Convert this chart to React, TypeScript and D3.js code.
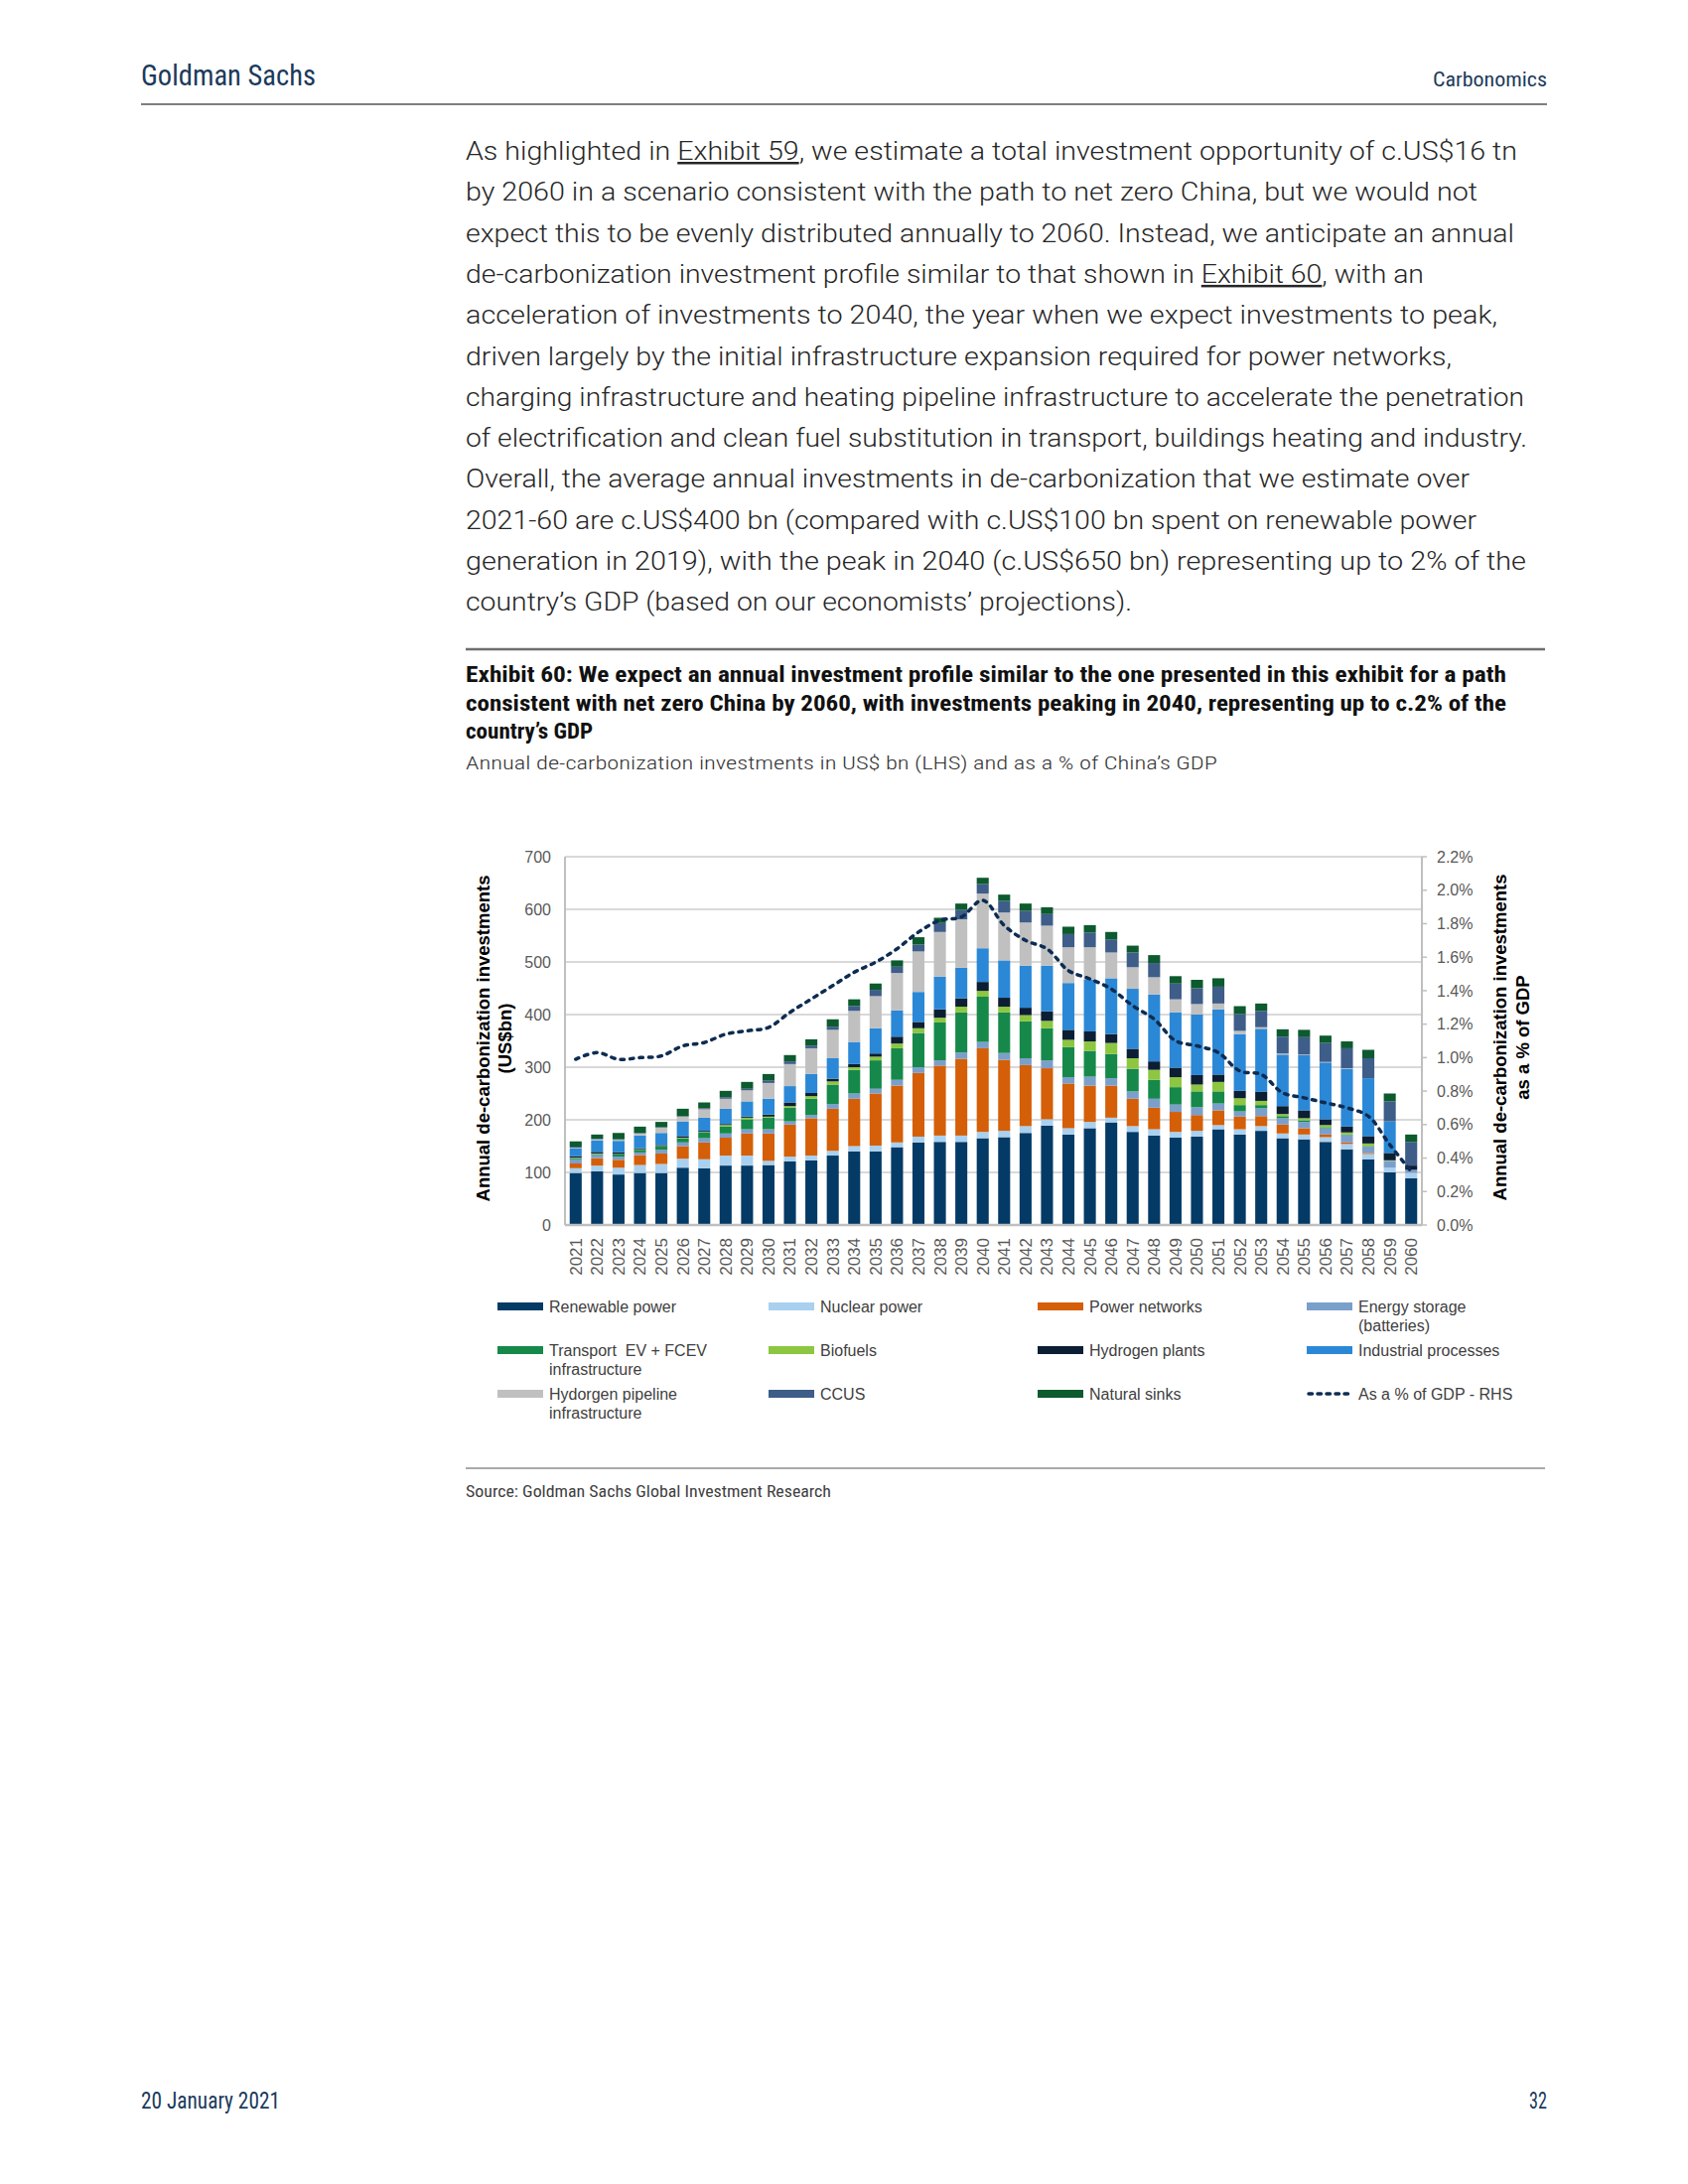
import React from "react"
import * as d3 from "d3"

// ---- data (US$ bn) ----
const years = [
  2021, 2022, 2023, 2024, 2025, 2026, 2027, 2028, 2029, 2030,
  2031, 2032, 2033, 2034, 2035, 2036, 2037, 2038, 2039, 2040,
  2041, 2042, 2043, 2044, 2045, 2046, 2047, 2048, 2049, 2050,
  2051, 2052, 2053, 2054, 2055, 2056, 2057, 2058, 2059, 2060,
]

const renewablePower = [
  99, 102, 96, 99, 99, 109, 108, 113, 113, 114,
  121, 123, 132, 140, 140, 148, 157, 158, 158, 165,
  167, 175, 189, 172, 184, 195, 177, 170, 166, 168,
  182, 172, 179, 165, 163, 158, 144, 125, 100, 89,
]
const nuclearPower = [
  9, 11, 13, 15, 17, 17, 17, 19, 19, 8,
  9, 9, 9, 10, 11, 9, 11, 12, 12, 12,
  12, 13, 12, 12, 12, 9, 11, 12, 11, 11,
  8, 10, 9, 9, 9, 9, 10, 10, 9, 10,
]
const powerNetworks = [
  9, 14, 15, 19, 20, 24, 32, 34, 42, 52,
  61, 71, 80, 90, 99, 108, 121, 133, 146, 159,
  135, 116, 97, 85, 69, 61, 52, 41, 38, 30,
  28, 24, 19, 17, 12, 5, 3, 2, 0, 0,
]
const energyStorage = [
  8, 6, 6, 5, 7, 7, 8, 8, 8, 8,
  6, 6, 9, 10, 9, 11, 11, 10, 12, 12,
  13, 13, 15, 12, 17, 14, 14, 17, 14, 15,
  13, 10, 15, 12, 12, 12, 14, 12, 13, 6,
]
const transportInfra = [
  2, 2, 4, 5, 6, 8, 11, 13, 19, 22,
  26, 31, 37, 45, 54, 60, 65, 72, 76, 86,
  77, 70, 61, 57, 49, 46, 43, 36, 33, 30,
  23, 12, 6, 4, 3, 2, 1, 1, 0, 0,
]
const biofuels = [
  1, 1, 1, 1, 1, 1, 1, 3, 3, 2,
  3, 5, 6, 5, 7, 9, 9, 9, 11, 11,
  11, 12, 14, 14, 18, 21, 20, 19, 19, 13,
  18, 13, 8, 4, 4, 4, 4, 5, 1, 0,
]
const hydrogenPlants = [
  3, 3, 3, 2, 2, 3, 2, 2, 2, 4,
  7, 6, 5, 6, 6, 13, 12, 16, 16, 17,
  17, 14, 18, 19, 19, 17, 18, 16, 18, 18,
  14, 14, 17, 15, 15, 11, 11, 14, 14, 8,
]
const industrialProcesses = [
  15, 22, 22, 24, 23, 28, 25, 29, 29, 30,
  31, 36, 39, 42, 48, 50, 57, 62, 58, 64,
  71, 80, 87, 89, 99, 106, 114, 127, 105, 115,
  124, 108, 120, 98, 105, 108, 110, 110, 60, 0,
]
const hydrogenPipeline = [
  1, 2, 2, 4, 10, 9, 16, 19, 21, 30,
  42, 49, 54, 59, 61, 71, 77, 85, 92, 104,
  91, 82, 76, 68, 61, 49, 41, 33, 25, 20,
  11, 6, 3, 2, 1, 1, 1, 0, 0, 0,
]
const ccus = [
  2, 1, 1, 1, 1, 1, 2, 3, 3, 5,
  5, 5, 6, 9, 12, 12, 13, 17, 18, 18,
  22, 22, 22, 25, 28, 25, 28, 27, 30, 30,
  32, 32, 31, 32, 33, 36, 38, 38, 38, 45,
]
const naturalSinks = [
  10, 8, 12, 12, 10, 14, 11, 12, 13, 12,
  12, 12, 14, 13, 12, 12, 14, 10, 12, 12,
  12, 14, 13, 14, 14, 14, 13, 15, 14, 16,
  16, 15, 14, 14, 14, 14, 13, 16, 15, 14,
]
// % of GDP (RHS)
const gdpShare = [
  0.99, 1.03, 0.99, 1.0, 1.01, 1.07, 1.09, 1.14, 1.16, 1.18,
  1.27, 1.35, 1.43, 1.51, 1.57, 1.65, 1.75, 1.82, 1.84, 1.94,
  1.79, 1.7, 1.65, 1.52, 1.47, 1.41, 1.31, 1.23, 1.1, 1.07,
  1.03, 0.92, 0.9, 0.79, 0.76, 0.73, 0.7, 0.65, 0.48, 0.32,
]

const leftTicks = [0, 100, 200, 300, 400, 500, 600, 700]
const rightTicks = [0, 0.2, 0.4, 0.6, 0.8, 1.0, 1.2, 1.4, 1.6, 1.8, 2.0, 2.2]

const series = [
  { label: ["Renewable power"], color: "#033a66", values: renewablePower },
  { label: ["Nuclear power"], color: "#a9d0ef", values: nuclearPower },
  { label: ["Power networks"], color: "#d45f08", values: powerNetworks },
  { label: ["Energy storage", "(batteries)"], color: "#7b9fcb", values: energyStorage },
  { label: ["Transport  EV + FCEV", "infrastructure"], color: "#16894a", values: transportInfra },
  { label: ["Biofuels"], color: "#8dc641", values: biofuels },
  { label: ["Hydrogen plants"], color: "#0c1e33", values: hydrogenPlants },
  { label: ["Industrial processes"], color: "#2b88d6", values: industrialProcesses },
  { label: ["Hydorgen pipeline", "infrastructure"], color: "#c0c0c0", values: hydrogenPipeline },
  { label: ["CCUS"], color: "#3e5d89", values: ccus },
  { label: ["Natural sinks"], color: "#0c5a2e", values: naturalSinks },
]
const lineLabel = "As a % of GDP - RHS"
const lineColor = "#0d2c52"

// ---- page text ----
const bodyLines: [string, boolean][][] = [
  [["As highlighted in ", false], ["Exhibit 59", true], [", we estimate a total investment opportunity of c.US$16 tn", false]],
  [["by 2060 in a scenario consistent with the path to net zero China, but we would not", false]],
  [["expect this to be evenly distributed annually to 2060. Instead, we anticipate an annual", false]],
  [["de-carbonization investment profile similar to that shown in ", false], ["Exhibit 60", true], [", with an", false]],
  [["acceleration of investments to 2040, the year when we expect investments to peak,", false]],
  [["driven largely by the initial infrastructure expansion required for power networks,", false]],
  [["charging infrastructure and heating pipeline infrastructure to accelerate the penetration", false]],
  [["of electrification and clean fuel substitution in transport, buildings heating and industry.", false]],
  [["Overall, the average annual investments in de-carbonization that we estimate over", false]],
  [["2021-60 are c.US$400 bn (compared with c.US$100 bn spent on renewable power", false]],
  [["generation in 2019), with the peak in 2040 (c.US$650 bn) representing up to 2% of the", false]],
  [["country\u2019s GDP (based on our economists\u2019 projections).", false]],
]
const bodyLineEnds = [1528, 1488, 1525, 1434, 1508, 1462, 1535, 1538, 1480, 1487, 1537, 1140]

const titleLines = [
  "Exhibit 60: We expect an annual investment profile similar to the one presented in this exhibit for a path",
  "consistent with net zero China by 2060, with investments peaking in 2040, representing up to c.2% of the",
  "country\u2019s GDP",
]
const titleWidths = [1048, 1048, 128]
const subtitle = "Annual de-carbonization investments in US$ bn (LHS) and as a % of China\u2019s GDP"
const sourceText = "Source: Goldman Sachs Global Investment Research"

const narrow = "'Liberation Sans Narrow', 'Roboto Condensed', Roboto, 'Liberation Sans', sans-serif"
const arial = "'Liberation Sans', Arial, sans-serif"
const navy = "#1b3a5c"

const plot = { left: 569, right: 1432, top: 863, bottom: 1234 }
const textLeft = 469

export default function App() {
  const x = d3
    .scaleBand<number>()
    .domain(years)
    .range([plot.left, plot.right])
    .paddingInner(0.44)
    .paddingOuter(0.22)
  const y = d3.scaleLinear().domain([0, 700]).range([plot.bottom, plot.top])
  const y2 = d3.scaleLinear().domain([0, 2.2]).range([plot.bottom, plot.top])

  const keys = series.map((_, j) => String(j))
  const rows = years.map((yr, i) => {
    const row: Record<string, number> = { year: yr }
    series.forEach((s, j) => (row[String(j)] = s.values[i]))
    return row
  })
  const stacked = d3.stack<Record<string, number>>().keys(keys)(rows)

  const linePath = d3
    .line<number>()
    .x((_, i) => (x(years[i]) ?? 0) + x.bandwidth() / 2)
    .y(d => y2(d))
    .curve(d3.curveCatmullRom.alpha(0.5))(gdpShare)

  const legendCols = [501, 774, 1045, 1316]
  const legendRows = [1316, 1360, 1404]
  const legendItems = [
    ...series.map(s => ({ label: s.label, color: s.color, line: false })),
    { label: [lineLabel], color: lineColor, line: true },
  ]

  return (
    <div style={{ position: "absolute", left: 0, top: 0, width: 1700, height: 2200, background: "#fff" }}>
      <svg width={1700} height={2200} style={{ display: "block" }}>
        <rect width={1700} height={2200} fill="#fff" />

        {/* header */}
        <text x={142} y={86} fontFamily={narrow} fontSize={29} fill={navy} textLength={176} lengthAdjust="spacingAndGlyphs">
          Goldman Sachs
        </text>
        <text x={1443} y={87} fontFamily={narrow} fontSize={21} fill={navy} textLength={115} lengthAdjust="spacingAndGlyphs">
          Carbonomics
        </text>
        <line x1={142} x2={1558} y1={105} y2={105} stroke="#7f7f7f" strokeWidth={2} />

        {/* body paragraph */}
        {bodyLines.map((parts, i) => (
          <text
            key={i}
            x={textLeft}
            y={161 + i * 41.3}
            fontFamily="Roboto, 'Liberation Sans', sans-serif"
            fontWeight={300}
            fontSize={25}
            fill="#262626"
            textLength={bodyLineEnds[i] - textLeft}
            lengthAdjust="spacingAndGlyphs"
          >
            {parts.map(([t, u], k) => (
              <tspan key={k} style={u ? { textDecoration: "underline" } : undefined}>
                {t}
              </tspan>
            ))}
          </text>
        ))}

        {/* exhibit heading */}
        <line x1={textLeft} x2={1556} y1={654} y2={654} stroke="#6e6e6e" strokeWidth={2.5} />
        {titleLines.map((t, i) => (
          <text
            key={i}
            x={textLeft}
            y={687 + i * 28.5}
            fontFamily={narrow}
            fontWeight="bold"
            fontSize={21.5}
            fill="#111"
            textLength={titleWidths[i]}
            lengthAdjust="spacingAndGlyphs"
          >
            {t}
          </text>
        ))}
        <text x={textLeft} y={775} fontFamily={narrow} fontWeight={300} fontSize={19} fill="#333" textLength={757} lengthAdjust="spacingAndGlyphs">
          {subtitle}
        </text>

        {/* gridlines */}
        {leftTicks.map(t => (
          <line key={t} x1={plot.left} x2={plot.right} y1={y(t)} y2={y(t)} stroke="#d9d9d9" strokeWidth={1.8} />
        ))}

        {/* stacked bars */}
        {stacked.map((layer, j) => (
          <g key={j} fill={series[j].color}>
            {layer.map((d, i) =>
              d[1] - d[0] > 0 ? (
                <rect
                  key={i}
                  x={x(years[i])}
                  width={x.bandwidth()}
                  y={y(d[1])}
                  height={y(d[0]) - y(d[1])}
                />
              ) : null
            )}
          </g>
        ))}

        {/* axes */}
        <line x1={plot.left} x2={plot.left} y1={plot.top} y2={plot.bottom} stroke="#bfbfbf" strokeWidth={2} />
        <line x1={plot.right} x2={plot.right} y1={plot.top} y2={plot.bottom} stroke="#bfbfbf" strokeWidth={2} />
        <line x1={plot.left} x2={plot.right} y1={plot.bottom} y2={plot.bottom} stroke="#bfbfbf" strokeWidth={2.5} />
        {rightTicks.map(t => (
          <line key={t} x1={plot.right} x2={plot.right + 5} y1={y2(t)} y2={y2(t)} stroke="#bfbfbf" strokeWidth={1.5} />
        ))}

        {/* %GDP line */}
        <path
          d={linePath ?? ""}
          fill="none"
          stroke={lineColor}
          strokeWidth={3.5}
          strokeDasharray="3.5 6"
          strokeLinecap="round"
        />

        {/* tick labels */}
        {leftTicks.map(t => (
          <text key={t} x={555} y={y(t)} dy="0.35em" textAnchor="end" fontFamily={arial} fontSize={16} fill="#595959">
            {t}
          </text>
        ))}
        {rightTicks.map(t => (
          <text key={t} x={1447} y={y2(t)} dy="0.35em" fontFamily={arial} fontSize={16} fill="#595959">
            {t.toFixed(1)}%
          </text>
        ))}
        {years.map(yr => {
          const cx = (x(yr) ?? 0) + x.bandwidth() / 2
          return (
            <text
              key={yr}
              transform={`translate(${cx},1247) rotate(-90)`}
              dy="0.35em"
              textAnchor="end"
              fontFamily={arial}
              fontSize={17}
              fill="#595959"
            >
              {yr}
            </text>
          )
        })}

        {/* axis titles */}
        <g fontFamily={arial} fontWeight="bold" fontSize={18.5} fill="#000" textAnchor="middle">
          <text transform="translate(493,1046) rotate(-90)">Annual de-carbonization investments</text>
          <text transform="translate(515,1046) rotate(-90)">(US$bn)</text>
          <text transform="translate(1517,1045) rotate(-90)">Annual de-carbonization investments</text>
          <text transform="translate(1540,1045) rotate(-90)">as a % of GDP</text>
        </g>

        {/* legend */}
        {legendItems.map((item, k) => {
          const cx = legendCols[k % 4]
          const cy = legendRows[Math.floor(k / 4)]
          return (
            <g key={k}>
              {item.line ? (
                <line
                  x1={cx + 2}
                  x2={cx + 44}
                  y1={cy}
                  y2={cy}
                  stroke={item.color}
                  strokeWidth={3.5}
                  strokeDasharray="3.5 5.5"
                  strokeLinecap="round"
                />
              ) : (
                <rect x={cx} y={cy - 4} width={46} height={8} fill={item.color} />
              )}
              {item.label.map((l, m) => (
                <text
                  key={m}
                  x={cx + 52}
                  y={cy + 5.5 + m * 19}
                  fontFamily={arial}
                  fontSize={16}
                  fill="#404040"
                  style={{ whiteSpace: "pre" }}
                >
                  {l}
                </text>
              ))}
            </g>
          )
        })}

        {/* source */}
        <line x1={textLeft} x2={1556} y1={1479} y2={1479} stroke="#8c8c8c" strokeWidth={1.5} />
        <text x={textLeft} y={1508} fontFamily={narrow} fontSize={16} fill="#404040" textLength={368} lengthAdjust="spacingAndGlyphs">
          {sourceText}
        </text>

        {/* footer */}
        <text x={142} y={2124} fontFamily={narrow} fontSize={23} fill={navy} textLength={140} lengthAdjust="spacingAndGlyphs">
          20 January 2021
        </text>
        <text x={1540} y={2124} fontFamily={narrow} fontSize={23} fill={navy} textLength={18} lengthAdjust="spacingAndGlyphs">
          32
        </text>
      </svg>
    </div>
  )
}
